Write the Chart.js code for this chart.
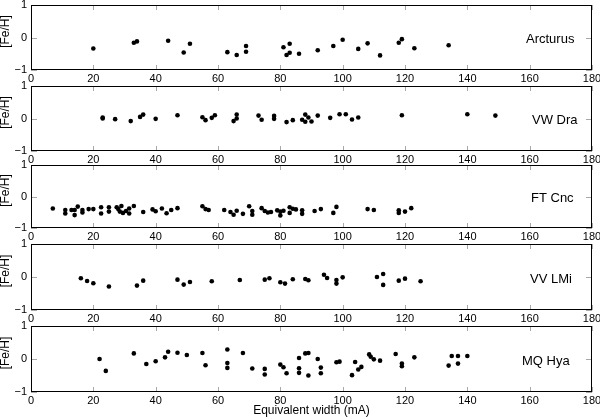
<!DOCTYPE html>
<html><head><meta charset="utf-8">
<script src="https://cdn.jsdelivr.net/npm/chart.js@4.4.1/dist/chart.umd.min.js"></script>
<style>
html,body{margin:0;padding:0;background:#fff;}
#wrap{position:relative;width:600px;height:419px;overflow:hidden;background:#fff;}
canvas{position:absolute;left:0;}
</style></head><body><div id="wrap"></div>
<script>
// ---- data ----
const xTicks = [0,20,40,60,80,100,120,140,160,180];
const yTicks = [-1,0,1];
const yTickLabels = ['\u22121','0','1'];
const starNames = ['Arcturus','VW Dra','FT Cnc','VV LMi','MQ Hya'];
const yTitle = '[Fe/H]';
const xTitle = 'Equivalent width (mA)';

const arcturusX = [20,33,34,44,49,51,63,66,69,69,81,82,83,83,86,92,97,100,105,108,112,118,119,123,134];
const arcturusY = [-0.34,-0.16,-0.12,-0.10,-0.46,-0.19,-0.45,-0.54,-0.26,-0.44,-0.30,-0.54,-0.19,-0.47,-0.50,-0.39,-0.26,-0.07,-0.35,-0.18,-0.55,-0.16,-0.05,-0.33,-0.24];

const vwDraX = [23,23,27,32,35,36,40,47,55,56,58,59,65,66,66,73,74,78,78,82,84,87,88,88,89,90,92,96,99,101,103,105,119,140,149];
const vwDraY = [0.03,0.0,-0.02,-0.08,0.05,0.12,-0.01,0.10,0.04,-0.05,0.02,0.10,-0.08,0.12,0.0,0.09,-0.04,0.08,-0.01,-0.11,-0.05,-0.04,0.12,-0.10,0.03,-0.09,0.09,0.02,0.13,0.13,-0.03,0.03,0.10,0.13,0.09];

const ftCncX = [7,11,11,13,14,14,15,16.5,16.5,18.5,20,22.5,22.5,25,25,27.5,28,29,28.5,29.5,30.5,31.5,31.5,33,36,39,40,42,43.5,45,47,55,56,57,62,64,65,66,68,70,71,71,74,75,76,77,79,80,80,81,83,83,84,85,87,87,91,93,97,98,108,110,118,118,120,122];
const ftCncY = [-0.38,-0.43,-0.54,-0.43,-0.43,-0.59,-0.32,-0.43,-0.51,-0.40,-0.40,-0.34,-0.54,-0.34,-0.48,-0.34,-0.40,-0.30,-0.48,-0.52,-0.46,-0.54,-0.38,-0.30,-0.49,-0.41,-0.47,-0.38,-0.53,-0.43,-0.37,-0.31,-0.40,-0.43,-0.43,-0.49,-0.58,-0.45,-0.55,-0.31,-0.46,-0.58,-0.37,-0.46,-0.51,-0.49,-0.44,-0.48,-0.60,-0.45,-0.52,-0.34,-0.39,-0.41,-0.44,-0.55,-0.46,-0.40,-0.52,-0.33,-0.40,-0.43,-0.44,-0.52,-0.48,-0.37];

const vvLMiX = [16,18,20,25,34,36,47,49,51,58,67,75,76.5,80,81.5,84,88,89,94,95,98,98,100,111,113,113,118,120,125];
const vvLMiY = [-0.04,-0.12,-0.19,-0.29,-0.26,-0.11,-0.08,-0.23,-0.15,-0.13,-0.09,-0.08,-0.04,-0.16,-0.20,-0.07,-0.06,-0.10,0.07,-0.03,-0.09,-0.20,-0.01,0.0,0.09,-0.24,-0.11,-0.05,-0.13];

const mqHyaX = [22,24,33,37,40,43,44,47,50,55,56,63,63,63,68,71,75,75,80,81,82,86,86,86,88,89,89,92,93,93,98,99,103,104,105,106,108.5,109,110,112,117,119,119,123,134,135,137,137,140];
const mqHyaY = [0.0,-0.36,0.17,-0.15,-0.07,0.05,0.22,0.19,0.12,0.18,-0.19,0.29,-0.12,-0.27,0.18,-0.29,-0.30,-0.47,-0.17,-0.25,-0.43,0.03,-0.28,-0.42,0.17,0.18,-0.50,0.0,-0.26,-0.43,-0.10,-0.08,-0.49,-0.09,-0.32,-0.24,0.14,0.07,-0.01,-0.05,0.15,-0.14,-0.22,0.05,-0.20,0.09,0.09,-0.14,0.09];

const seriesX = [arcturusX, vwDraX, ftCncX, vvLMiX, mqHyaX];
const seriesY = [arcturusY, vwDraY, ftCncY, vvLMiY, mqHyaY];

// ---- layout (page pixels) ----
const panelTop = [5,86,165,244,326];
const panelBottom = [70,151,228,310,392];
const nameLeft = [526,532,531,530,522];
const PAD_TOP = 6;

const FONT = '"Liberation Sans", Arial, Helvetica, sans-serif';
Chart.defaults.font.family = FONT;
Chart.defaults.color = '#000';

const wrap = document.getElementById('wrap');

function makePanel(i){
  const last = i === 4;
  const plotH = panelBottom[i] - panelTop[i];
  const xAxisH = last ? (419 - panelBottom[i]) : 16;
  const cv = document.createElement('canvas');
  const h = PAD_TOP + plotH + xAxisH;
  cv.width = 600; cv.height = h;
  cv.style.width = '600px'; cv.style.height = h + 'px';
  cv.style.top = (panelTop[i] - PAD_TOP) + 'px';
  wrap.appendChild(cv);

  const deco = {
    id: 'deco' + i,
    beforeDatasetsDraw(chart){
      const {ctx, chartArea:{left,right,top,bottom}, scales:{x,y}} = chart;
      ctx.save();
      ctx.strokeStyle = '#a8a8a8';
      ctx.lineWidth = 1;
      ctx.beginPath();
      xTicks.forEach(v => {
        const px = Math.round(x.getPixelForValue(v)) + 0.5;
        ctx.moveTo(px, top); ctx.lineTo(px, top + 5);
        ctx.moveTo(px, bottom); ctx.lineTo(px, bottom - 5);
      });
      yTicks.forEach(v => {
        const py = Math.round(y.getPixelForValue(v)) + 0.5;
        ctx.moveTo(left, py); ctx.lineTo(left + 6, py);
        ctx.moveTo(right, py); ctx.lineTo(right - 6, py);
      });
      ctx.stroke();
      ctx.restore();
    },
    afterDraw(chart){
      const {ctx, chartArea:{left,right,top,bottom}, scales:{y}} = chart;
      ctx.save();
      ctx.strokeStyle = '#000';
      ctx.lineWidth = 1;
      ctx.strokeRect(left + 0.5, top + 0.5, right - left - 1, bottom - top - 1);
      // star name
      ctx.fillStyle = '#000';
      ctx.font = '13px ' + FONT;
      ctx.textBaseline = 'middle';
      ctx.textAlign = 'left';
      ctx.fillText(starNames[i], nameLeft[i], y.getPixelForValue(0) + 2);
      // y title
      ctx.save();
      ctx.translate(6, (top + bottom) / 2 - 6);
      ctx.rotate(-Math.PI / 2);
      ctx.textAlign = 'center';
      ctx.font = '12px ' + FONT;
      ctx.fillText(yTitle, 0, 0);
      ctx.restore();
      if (last) {
        ctx.textAlign = 'center';
        ctx.textBaseline = 'middle';
        ctx.font = '12px ' + FONT;
        ctx.fillText(xTitle, (left + right) / 2, bottom + 18.5);
      }
      ctx.restore();
    }
  };

  new Chart(cv, {
    type: 'scatter',
    data: {
      datasets: [{
        data: seriesX[i].map((v, k) => ({x: v, y: seriesY[i][k]})),
        backgroundColor: '#000',
        borderWidth: 0,
        pointRadius: 2.3,
        pointHoverRadius: 2.3
      }]
    },
    options: {
      responsive: false,
      animation: false,
      devicePixelRatio: 1,
      events: [],
      layout: {padding: {top: PAD_TOP, right: 8, left: 0, bottom: 0}},
      plugins: {legend: {display: false}, tooltip: {enabled: false}},
      scales: {
        x: {
          type: 'linear', min: 0, max: 180,
          afterBuildTicks: s => { s.ticks = xTicks.map(v => ({value: v})); },
          ticks: {font: {size: 11}, color: '#000', padding: 2, maxRotation: 0, autoSkip: false},
          grid: {display: false, drawTicks: false},
          border: {display: false},
          afterFit: s => { s.height = xAxisH; s.paddingLeft = 0; s.paddingRight = 0; }
        },
        y: {
          type: 'linear', min: -1, max: 1,
          afterBuildTicks: s => { s.ticks = yTicks.map(v => ({value: v})); },
          ticks: {font: {size: 11}, color: '#000', padding: 4,
                  callback: v => yTickLabels[yTicks.indexOf(v)]},
          grid: {display: false, drawTicks: false},
          border: {display: false},
          afterFit: s => { s.width = 31; s.paddingTop = 0; s.paddingBottom = 0; }
        }
      }
    },
    plugins: [deco]
  });
}

for (let i = 0; i < 5; i++) makePanel(i);
</script>
</body></html>
